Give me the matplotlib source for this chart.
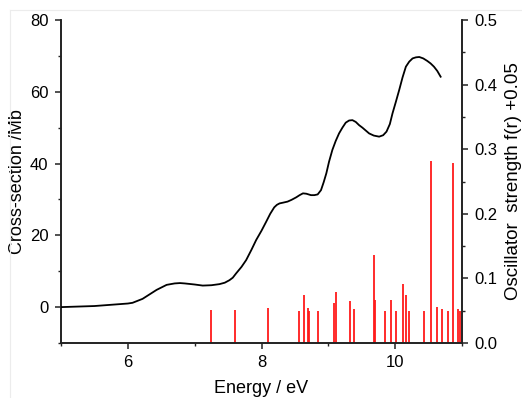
import matplotlib
matplotlib.use("Agg")
import matplotlib.pyplot as plt
from matplotlib.lines import Line2D
from matplotlib.ticker import MultipleLocator, FormatStrFormatter

plt.rcParams['font.family'] = ['Liberation Sans', 'DejaVu Sans']

# cross-section curve (energy in eV, cross-section in Mb)
energy = [5.0, 5.5, 6.0, 6.07, 6.22, 6.43, 6.58, 6.7, 6.78, 6.85, 7.0, 7.12,
          7.25, 7.37, 7.45, 7.52, 7.57, 7.62, 7.70, 7.77, 7.85, 7.92, 8.0,
          8.07, 8.13, 8.19, 8.23, 8.27, 8.32, 8.39, 8.45, 8.52, 8.57, 8.62,
          8.67, 8.74, 8.79, 8.84, 8.89, 8.93, 8.97, 9.01, 9.06, 9.11, 9.16,
          9.21, 9.26, 9.31, 9.36, 9.41, 9.46, 9.51, 9.61, 9.68, 9.76, 9.82,
          9.87, 9.92, 9.96, 10.01, 10.06, 10.11, 10.16, 10.21, 10.26, 10.31,
          10.36, 10.42, 10.48, 10.53, 10.58, 10.63, 10.68]
cross_section = [0.0, 0.3, 1.0, 1.2, 2.3, 4.8, 6.2, 6.6, 6.7, 6.6, 6.3, 6.0,
                 6.1, 6.4, 6.8, 7.5, 8.2, 9.4, 11.2, 13.1, 16.0, 18.7, 21.3,
                 23.8, 26.0, 27.8, 28.5, 28.9, 29.1, 29.4, 29.9, 30.6, 31.2,
                 31.7, 31.6, 31.2, 31.2, 31.4, 32.6, 34.8, 37.3, 40.5, 43.8,
                 46.3, 48.4, 50.0, 51.4, 52.0, 52.1, 51.6, 50.7, 50.0, 48.4,
                 47.8, 47.5, 47.9, 48.9, 51.0, 54.0, 57.2, 60.5, 64.0, 67.0,
                 68.4, 69.3, 69.6, 69.7, 69.3, 68.6, 67.9, 67.0, 65.8, 64.2]

# calculated transitions: energy (eV) and oscillator strength f(r)
line_energy = [7.24, 7.60, 8.10, 8.56, 8.63, 8.69, 8.71, 8.84, 9.09, 9.11,
               9.33, 9.39, 9.69, 9.70, 9.85, 9.94, 10.01, 10.11, 10.16, 10.21,
               10.43, 10.54, 10.63, 10.70, 10.79, 10.86, 10.94, 10.97]
osc_strength = [0.001, 0.001, 0.004, 0.000, 0.025, 0.004, 0.000, 0.000,
                0.012, 0.029, 0.015, 0.003, 0.087, 0.016, 0.000, 0.016,
                0.000, 0.042, 0.024, 0.000, 0.000, 0.231, 0.006, 0.002,
                0.000, 0.228, 0.002, 0.000]
offset = 0.05

fig = plt.figure(figsize=(5.22, 3.98), dpi=100)
ax = fig.add_axes([0.1169, 0.1382, 0.7682, 0.8115])
ax2 = ax.twinx()

ax.plot(energy, cross_section, color='black', lw=1.3, zorder=3)
ax2.vlines(line_energy, 0, [f + offset for f in osc_strength],
           color='#ff1a1a', lw=1.3)

ax.set_zorder(ax2.get_zorder() + 1)
ax.patch.set_visible(False)

ax.set_xlim(5, 11)
ax.set_ylim(-10, 80)
ax2.set_ylim(0, 0.5)

ax.xaxis.set_major_locator(MultipleLocator(2))
ax.xaxis.set_minor_locator(MultipleLocator(1))
ax.set_yticks([0, 20, 40, 60, 80])
ax.yaxis.set_minor_locator(MultipleLocator(10))
ax2.yaxis.set_major_locator(MultipleLocator(0.1))
ax2.yaxis.set_minor_locator(MultipleLocator(0.05))
ax2.yaxis.set_major_formatter(FormatStrFormatter('%.1f'))

for a in (ax, ax2):
    a.spines['top'].set_visible(False)
    for s in a.spines.values():
        s.set_linewidth(1.2)
        s.set_color('#222222')
    a.tick_params(which='major', direction='out', length=4.5, width=1.1,
                  labelsize=12, pad=4.5, colors='#222222', labelcolor='black')
    a.tick_params(which='minor', direction='out', length=2.5, width=1.0,
                  colors='#222222')

ax.set_xlabel('Energy / eV', fontsize=13, labelpad=7)
ax.set_ylabel('Cross-section /Mb', fontsize=13, labelpad=3)
ax2.set_ylabel('Oscillator  strength f(r) +0.05', fontsize=13.5, labelpad=5)

# faint frame at top-left of the figure
fig.add_artist(Line2D([10 / 522, 10 / 522], [0, 1 - 10 / 398],
                      transform=fig.transFigure, color='#ececec', lw=0.8))
fig.add_artist(Line2D([10 / 522, 1], [1 - 10 / 398, 1 - 10 / 398],
                      transform=fig.transFigure, color='#ececec', lw=0.8))

fig.savefig('out.png', dpi=100)
